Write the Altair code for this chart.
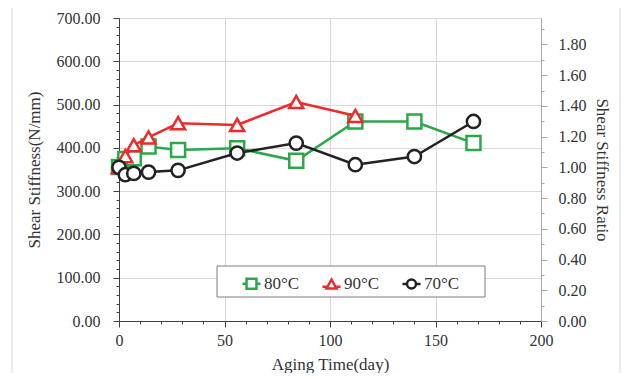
import altair as alt
import pandas as pd

# ---- data ----
days_80 = [0, 3, 7, 14, 28, 56, 84, 112, 140, 168]
stiff_80 = [356, 374, 376, 403, 395, 399, 370, 461, 461, 411]
days_90 = [0, 3, 7, 14, 28, 56, 84, 112]
stiff_90 = [356, 381, 406, 424, 457, 453, 506, 474]
days_70 = [0, 3, 7, 14, 28, 56, 84, 112, 140, 168]
stiff_70 = [355, 338, 341, 344, 348, 388, 411, 361, 380, 461]

series_names = ["80°C", "90°C", "70°C"]
series_colors = ["#2aa84a", "#ee2a2a", "#222222"]
series_shapes = ["square", "triangle-up", "circle"]
series_sizes = [196, 196, 175]
legend_paths = [
    "M-1,0H-0.55M0.55,0H1M-0.55,-0.55H0.55V0.55H-0.55Z",
    "M-1,0.3H-0.55M0.55,0.3H1M-0.55,0.5L0,-0.5L0.55,0.5Z",
    "M-1,0H-0.5M0.5,0H1M-0.5,0A0.5,0.5 0 1,0 0.5,0A0.5,0.5 0 1,0 -0.5,0Z",
]
baseline = 355.0  # stiffness at day 0 used for ratio axis

rows = []
for name, ds, vs in zip(series_names, [days_80, days_90, days_70], [stiff_80, stiff_90, stiff_70]):
    for d, v in zip(ds, vs):
        rows.append({"day": d, "value": v, "series": name})
df = pd.DataFrame(rows)

FONT = "Liberation Serif"
TXT = "#333333"
LBL = 16
TTL = 17

x_ticks = list(range(0, 201, 10))
y_ticks = list(range(0, 701, 20))
r_ticks = [round(i * 0.1, 1) for i in range(0, 20)]

x_enc = alt.X(
    "day:Q",
    scale=alt.Scale(domain=[0, 200], nice=False),
    axis=alt.Axis(
        title="Aging Time(day)",
        values=x_ticks,
        labelExpr="datum.value % 50 === 0 ? datum.value : ''",
        labelOverlap=False, labelFlush=False,
        tickSize={"condition": {"test": "datum.value % 50 === 0", "value": 6}, "value": 3},
        gridOpacity={"condition": {"test": "datum.value % 50 === 0", "value": 1}, "value": 0},
        grid=True,
        gridColor="#d9d9d9",
        domainColor="#404040",
        tickColor="#404040",
        labelFont=FONT, labelFontSize=LBL, labelColor=TXT, labelPadding=5,
        titleFont=FONT, titleFontSize=TTL, titleColor=TXT, titleFontWeight="normal",
        titlePadding=8,
    ),
)

y_enc = alt.Y(
    "value:Q",
    scale=alt.Scale(domain=[0, 700], nice=False),
    axis=alt.Axis(
        title="Shear Stiffness(N/mm)",
        values=y_ticks,
        labelExpr="datum.value % 100 === 0 ? format(datum.value, '.2f') : ''",
        labelOverlap=False, labelFlush=False,
        tickSize={"condition": {"test": "datum.value % 100 === 0", "value": 6}, "value": 3},
        gridOpacity={"condition": {"test": "datum.value % 100 === 0", "value": 1}, "value": 0},
        grid=True,
        gridColor="#d9d9d9",
        domainColor="#404040",
        tickColor="#404040",
        labelFont=FONT, labelFontSize=LBL, labelColor=TXT, labelPadding=13,
        titleFont=FONT, titleFontSize=TTL, titleColor=TXT, titleFontWeight="normal",
        titlePadding=13,
    ),
)

base = alt.Chart(df)
one_row = "datum.day === 0 && datum.series === '80°C'"

# light outer frame round the whole figure
outer = base.mark_rect(fill=None, stroke="#d9d9d9", strokeWidth=1).encode(
    x=alt.value(-107), x2=alt.value(501), y=alt.value(-13), y2=alt.value(364)
).transform_filter(one_row)

# legend frame (white box over the grid)
frame = base.mark_rect(fill="white", stroke="#7f7f7f", strokeWidth=1).encode(
    x=alt.value(98), x2=alt.value(366), y=alt.value(248), y2=alt.value(279)
).transform_filter(one_row)

layers = []
for name, col, shp, sz in zip(series_names, series_colors, series_shapes, series_sizes):
    sub = base.transform_filter(alt.datum.series == name)
    line = sub.mark_line(color=col, strokeWidth=2.5).encode(x=x_enc, y=y_enc)
    pts = sub.mark_point(shape=shp, size=sz, color=col, filled=False,
                         strokeWidth=2.5, opacity=1).encode(
        x=x_enc, y=y_enc, fill=alt.value("white"))
    layers += [line, pts]

legend_layer = base.mark_point(filled=False, strokeWidth=2.5).encode(
    x=x_enc,
    y=y_enc,
    color=alt.Color(
        "series:N",
        scale=alt.Scale(domain=series_names, range=series_colors),
        legend=alt.Legend(
            title=None, orient="none", legendX=122, legendY=255, direction="horizontal",
            symbolSize=324, symbolStrokeWidth=2.5, symbolOpacity=1,
            labelFont=FONT, labelFontSize=17, labelColor=TXT, labelOffset=2,
            columnPadding=17, padding=0,
        ),
    ),
    shape=alt.Shape("series:N", scale=alt.Scale(domain=series_names, range=legend_paths)),
).transform_filter("datum.value < 0")

# decorations drawn first, axis definitions carried by the data layers
left = alt.layer(layers[0], outer, frame, *layers[1:], legend_layer)

right = base.mark_point(opacity=0).encode(
    x=x_enc,
    y=alt.Y(
        "ratio:Q",
        scale=alt.Scale(domain=[0, 700 / baseline], nice=False),
        axis=alt.Axis(
            orient="right",
            title="Shear Stiffness Ratio",
            values=r_ticks,
            labelExpr="round(datum.value * 10) % 2 === 0 ? format(datum.value, '.2f') : ''",
            labelOverlap=False, labelFlush=False,
            tickSize={"condition": {"test": "round(datum.value * 10) % 2 === 0", "value": 6}, "value": 3},
            grid=False,
            domainColor="#a6a6a6",
            tickColor="#a6a6a6",
            labelFont=FONT, labelFontSize=LBL, labelColor=TXT, labelPadding=11,
            titleFont=FONT, titleFontSize=TTL, titleColor=TXT, titleFontWeight="normal",
            titlePadding=6,
        ),
    ),
).transform_calculate(ratio="datum.value / %f" % baseline).transform_filter("datum.value < 0")

chart = alt.layer(left, right).resolve_scale(y="independent").properties(
    width=422,
    height=303,
    padding={"left": 111, "top": 10, "right": 81, "bottom": 52},
    autosize=alt.AutoSizeParams(type="none"),
).configure_view(stroke="#8c8c8c", strokeWidth=1)

chart.save("out.html", embed_options={"renderer": "svg", "actions": False})
